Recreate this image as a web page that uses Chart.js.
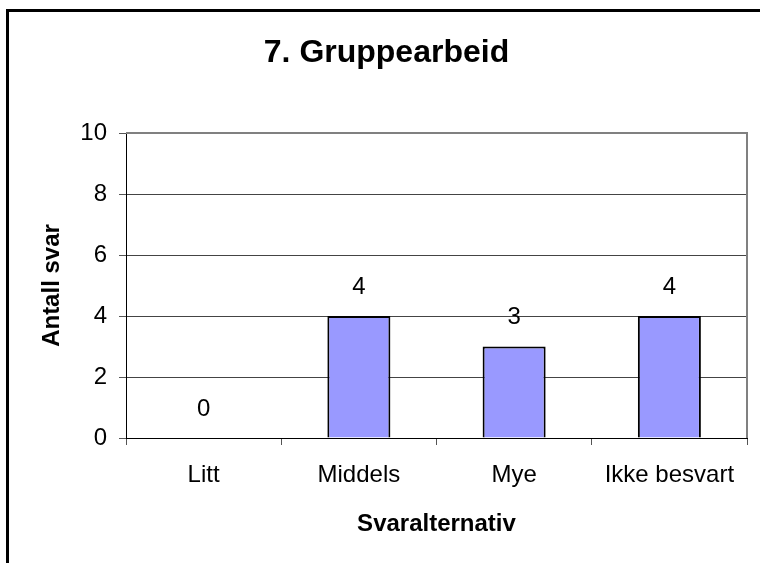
<!DOCTYPE html>
<html>
<head>
<meta charset="utf-8">
<script src="https://cdn.jsdelivr.net/npm/chart.js@4"></script>
<style>
  body { margin: 0; background: #fff; }
  canvas { display: block; }
</style>
</head>
<body>
<canvas id="chart" width="760" height="563"></canvas>
<script>
const chartTitle = "7. Gruppearbeid";
const xTitle = "Svaralternativ";
const yTitle = "Antall svar";
const categories = ["Litt", "Middels", "Mye", "Ikke besvart"];
const answers = [0, 4, 3, 4];
const yMin = 0;
const yMax = 10;
const yStep = 2;

const FONT = "'Liberation Sans', Arial, sans-serif";

// outer frame + plot border (top/right)
const framePlugin = {
  id: "frame",
  beforeDraw(chart) {
    const ctx = chart.ctx;
    ctx.save();
    ctx.fillStyle = "#fff";
    ctx.fillRect(0, 0, chart.width, chart.height);
    ctx.strokeStyle = "#000";
    ctx.lineWidth = 3;
    ctx.strokeRect(7.5, 10.5, 900, 700);
    ctx.restore();
  },
  beforeDatasetsDraw(chart) {
    const { ctx, chartArea: a } = chart;
    ctx.save();
    ctx.strokeStyle = "#808080";
    ctx.lineWidth = 2;
    ctx.beginPath();
    ctx.moveTo(a.left, a.top);
    ctx.lineTo(a.right, a.top);
    ctx.lineTo(a.right, a.bottom);
    ctx.stroke();
    ctx.restore();
  }
};

// value labels above bars
const valueLabels = {
  id: "valueLabels",
  afterDatasetsDraw(chart) {
    const ctx = chart.ctx;
    const meta = chart.getDatasetMeta(0);
    ctx.save();
    ctx.font = "24px " + FONT;
    ctx.fillStyle = "#000";
    ctx.textAlign = "center";
    ctx.textBaseline = "middle";
    meta.data.forEach((bar, i) => {
      ctx.fillText(String(answers[i]), bar.x, bar.y - 29);
    });
    ctx.restore();
  }
};

new Chart(document.getElementById("chart"), {
  type: "bar",
  data: {
    labels: categories,
    datasets: [{
      data: answers,
      backgroundColor: "#9999FF",
      borderColor: "#000",
      borderWidth: 2,
      categoryPercentage: 1,
      barPercentage: 0.406
    }]
  },
  options: {
    responsive: false,
    animation: false,
    devicePixelRatio: 1,
    layout: { padding: { left: 26, right: 13, top: 0, bottom: 0 } },
    plugins: {
      legend: { display: false },
      tooltip: { enabled: false },
      title: {
        display: true,
        text: chartTitle,
        color: "#000",
        font: { family: FONT, size: 32, weight: "bold" },
        padding: { top: 34, bottom: 60.6 }
      }
    },
    scales: {
      x: {
        grid: {
          offset: true,
          drawOnChartArea: false,
          drawTicks: true,
          tickLength: 7,
          tickColor: "#555"
        },
        border: { color: "#000", width: 1 },
        ticks: {
          color: "#000",
          font: { family: FONT, size: 24 },
          padding: 16,
          maxRotation: 0
        },
        title: {
          display: true,
          text: xTitle,
          color: "#000",
          font: { family: FONT, size: 24, weight: "bold" },
          padding: { top: 0, bottom: 24 }
        },
        afterFit(scale) { scale.height = 125; }
      },
      y: {
        min: yMin,
        max: yMax,
        grid: {
          color: "#444",
          tickLength: 7,
          tickColor: "#555"
        },
        border: { color: "#000", width: 1 },
        ticks: {
          stepSize: yStep,
          color: "#000",
          font: { family: FONT, size: 24 },
          padding: 12
        },
        title: {
          display: true,
          text: yTitle,
          color: "#000",
          font: { family: FONT, size: 24, weight: "bold" },
          padding: { top: 12, bottom: 0 }
        },
        afterFit(scale) { scale.width = 100; }
      }
    }
  },
  plugins: [framePlugin, valueLabels]
});
</script>
</body>
</html>
